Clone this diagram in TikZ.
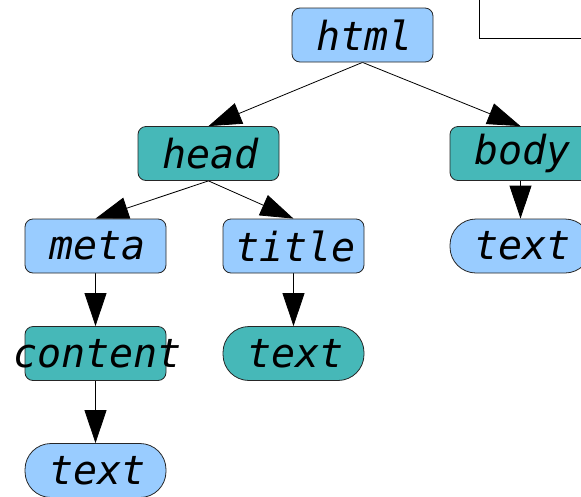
\documentclass[tikz,border=0pt]{standalone}
\usepackage{fontspec}
\setmonofont{DejaVu Sans Mono}
\usetikzlibrary{arrows.meta,backgrounds}
\definecolor{lblue}{RGB}{153,204,255}
\definecolor{teal2}{RGB}{70,184,184}
\tikzset{
  box/.style={draw=black!85, line width=0.8pt, rounded corners=8pt, minimum width=141pt, minimum height=54pt, inner sep=0pt, font=\fontsize{40}{42}\selectfont\ttfamily\itshape},
  bluebox/.style={box, fill=lblue},
  tealbox/.style={box, fill=teal2},
  pill/.style={box, rounded corners=26pt},
  conn/.style={line width=0.8pt, -{Triangle[length=33pt,width=22pt]}}
}
\newcommand{\lbl}[1]{\raisebox{-3.5pt}{\makebox[0pt]{\hspace*{4pt}#1}}}
\begin{document}
\begin{tikzpicture}[x=1pt,y=-1pt]
\useasboundingbox (0,0) rectangle (581,496);
\draw[line width=0.8pt, fill=white] (479,-10) rectangle (600,38);
\node[bluebox] (html) at (362.5,35) {\lbl{html}};
\node[tealbox] (head) at (208.5,153.5) {\lbl{head}};
\node[tealbox] (body) at (520.5,153.5) {\lbl{body}};
\node[bluebox] (meta) at (95.5,246) {\lbl{meta}};
\node[bluebox] (title) at (293.5,246) {\lbl{title}};
\node[pill, fill=lblue] (btext) at (520.5,246) {\lbl{text}};
\node[tealbox] (content) at (95.5,353.5) {\lbl{content}};
\node[pill, fill=teal2] (ttext) at (293.5,353.5) {\lbl{text}};
\node[pill, fill=lblue] (ctext) at (95.5,470.5) {\lbl{text}};
\begin{scope}[on background layer]
\draw[conn] (html.south) -- (head.north);
\draw[conn] (html.south) -- (body.north);
\draw[conn] (head.south) -- (meta.north);
\draw[conn] (head.south) -- (title.north);
\draw[conn] (meta.south) -- (content.north);
\draw[conn] (content.south) -- (ctext.north);
\draw[conn] (title.south) -- (ttext.north);
\draw[conn] (body.south) -- (btext.north);
\end{scope}
\end{tikzpicture}
\end{document}
